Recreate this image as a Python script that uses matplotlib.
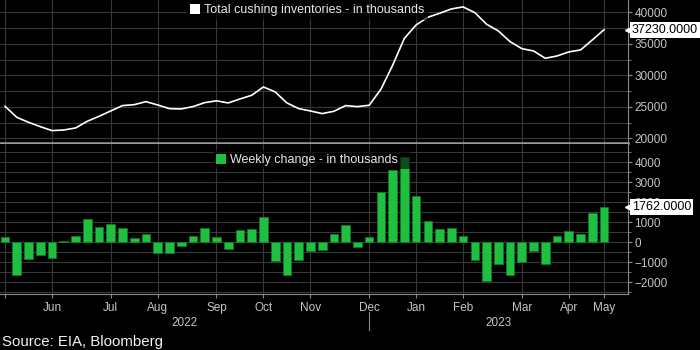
import numpy as np
import matplotlib
matplotlib.use("Agg")
import matplotlib.pyplot as plt
from matplotlib.patches import Patch, Rectangle
from matplotlib.ticker import MultipleLocator, FixedLocator

plt.rcParams['font.family'] = ['Liberation Sans', 'DejaVu Sans']

# weekly data, May 2022 - May 2023 (thousand barrels)
inventory = [25080, 23330, 22540, 21850, 21220, 21320, 21640, 22700, 23490, 24340,
             25190, 25340, 25820, 25290, 24710, 24660, 25030, 25660, 25950, 25610,
             26240, 26830, 28150, 27360, 25610, 24710, 24340, 23920, 24290, 25190,
             25030, 25240, 27780, 31590, 35870, 37990, 39210, 39840, 40530, 40850,
             39950, 38100, 37040, 35340, 34230, 33860, 32700, 33070, 33710, 34020,
             35610, 37230]
weekly_change = [270, -1620, -830, -620, -800, 70, 320, 1150, 750, 920,
                 730, 200, 420, -530, -530, -170, 330, 700, 270, -330,
                 600, 670, 1270, -930, -1630, -900, -430, -400, 430, 850,
                 -220, 250, 2520, 3630, 4250, 2320, 1050, 670, 720, 320,
                 -900, -1920, -1070, -1650, -980, -420, -1100, 320, 550, 400,
                 1470, 1762]
month_labels = ['Jun', 'Jul', 'Aug', 'Sep', 'Oct', 'Nov', 'Dec', 'Jan', 'Feb', 'Mar', 'Apr', 'May']
month_idx = [4, 9, 13, 18, 22, 26, 31, 35, 39, 44, 48, 51]
years = ['2022', '2023']
year_break = 31

BG = 'black'
GRID = '#383838'
SPINE = '#8a8a8a'
TICKC = '#c4c4c4'
GREEN = '#20bf3f'

x = np.arange(len(inventory))
xlim = (-0.43, 53.04)

fig = plt.figure(figsize=(7, 3.5), dpi=100, facecolor=BG)
ax1 = fig.add_axes([0, 207 / 350, 628 / 700, 143 / 350], facecolor=BG)
ax2 = fig.add_axes([0, 56 / 350, 628 / 700, 150 / 350], facecolor=BG)

for ax in (ax1, ax2):
    ax.set_xlim(*xlim)
    ax.xaxis.set_major_locator(FixedLocator([0] + month_idx))
    ax.grid(True, which='major', axis='x', color=GRID, lw=0.8)
    ax.grid(True, which='both', axis='y', color=GRID, lw=0.8)
    ax.set_axisbelow(True)
    ax.yaxis.tick_right()
    ax.tick_params(axis='y', which='both', colors=SPINE, labelcolor=TICKC,
                   labelsize=8.5, direction='out', pad=1.5)
    ax.tick_params(axis='y', which='major', length=3, width=0.8)
    ax.tick_params(axis='y', which='minor', length=2, width=0.6)
    for s in ('top', 'left'):
        ax.spines[s].set_visible(False)
    ax.spines['right'].set_color(SPINE)
    ax.spines['bottom'].set_color(SPINE)

# top panel: inventories
ax1.plot(x, inventory, color='white', lw=1.2, zorder=3)
ax1.set_ylim(19254, 41950)
ax1.yaxis.set_major_locator(MultipleLocator(5000))
ax1.yaxis.set_minor_locator(MultipleLocator(2500))
ax1.tick_params(axis='x', length=0, labelbottom=False)
ax1.spines['bottom'].set_linewidth(1.8)
ax1.spines['bottom'].set_color('#9a9a9a')
ax1.legend(handles=[Patch(facecolor='white', label='Total cushing inventories - in thousands')],
           loc='center', bbox_to_anchor=(0.489, 0.93), frameon=True, fontsize=9,
           handlelength=0.8, handleheight=0.8, handletextpad=0.3, borderpad=0.3,
           labelcolor='#e6e6e6', facecolor='black', edgecolor='none', framealpha=0.6,
           fancybox=False)

# bottom panel: weekly change
ax2.bar(x, weekly_change, width=0.74, color=GREEN, edgecolor='#0f7a28', lw=0.6, zorder=2)
ax2.set_ylim(-2585, 4915)
ax2.yaxis.set_major_locator(MultipleLocator(1000))
ax2.yaxis.set_minor_locator(MultipleLocator(500))
ax2.xaxis.set_major_locator(FixedLocator([0] + month_idx))
ax2.set_xticklabels([''] + month_labels)
ax2.tick_params(axis='x', colors=SPINE, labelcolor=TICKC, labelsize=8.5,
                length=3, width=0.8, direction='out', pad=3)
# translucent legend backing that dims the bar tops beneath it
ax2.add_patch(Rectangle((213 / 700, 1 - 169.5 / 350), 197 / 700, 19.5 / 350,
                        transform=fig.transFigure, facecolor='black', alpha=0.6,
                        edgecolor='none', zorder=4))
leg2 = ax2.legend(handles=[Patch(facecolor=GREEN, label='Weekly change - in thousands')],
                  loc='center', bbox_to_anchor=(0.489, 0.893), frameon=False, fontsize=9,
                  handlelength=0.8, handleheight=0.8, handletextpad=0.3, borderpad=0.3,
                  labelcolor='#e6e6e6')
leg2.set_zorder(5)

# last-value tags
for ax, val in ((ax1, inventory[-1]), (ax2, weekly_change[-1])):
    ax.annotate(f'{val:.4f}', xy=(1.0, val), xycoords=('axes fraction', 'data'),
                xytext=(4, 0), textcoords='offset pixels', ha='left', va='center',
                fontsize=9, color='black', annotation_clip=False, zorder=7,
                bbox=dict(boxstyle='square,pad=0.15', fc='white', ec='none'))
    ax.plot([1.0], [val], marker='<', ms=5, color='white', transform=ax.get_yaxis_transform(),
            clip_on=False, zorder=6)

# year labels and divider
trans = ax2.get_xaxis_transform()
ax2.text((xlim[0] + year_break) / 2, -0.19, years[0], transform=trans, ha='center', va='center',
         fontsize=8.5, color=TICKC)
ax2.text((year_break + xlim[1]) / 2, -0.19, years[1], transform=trans, ha='center', va='center',
         fontsize=8.5, color=TICKC)
ax2.plot([year_break, year_break], [-0.12, -0.24], transform=trans, color=SPINE, lw=0.8,
         clip_on=False)

fig.text(0.003, 0.023, 'Source: EIA, Bloomberg', fontsize=10.8, color='#f2f2f2',
         ha='left', va='center')

fig.savefig('out.png', dpi=100, facecolor=BG)
